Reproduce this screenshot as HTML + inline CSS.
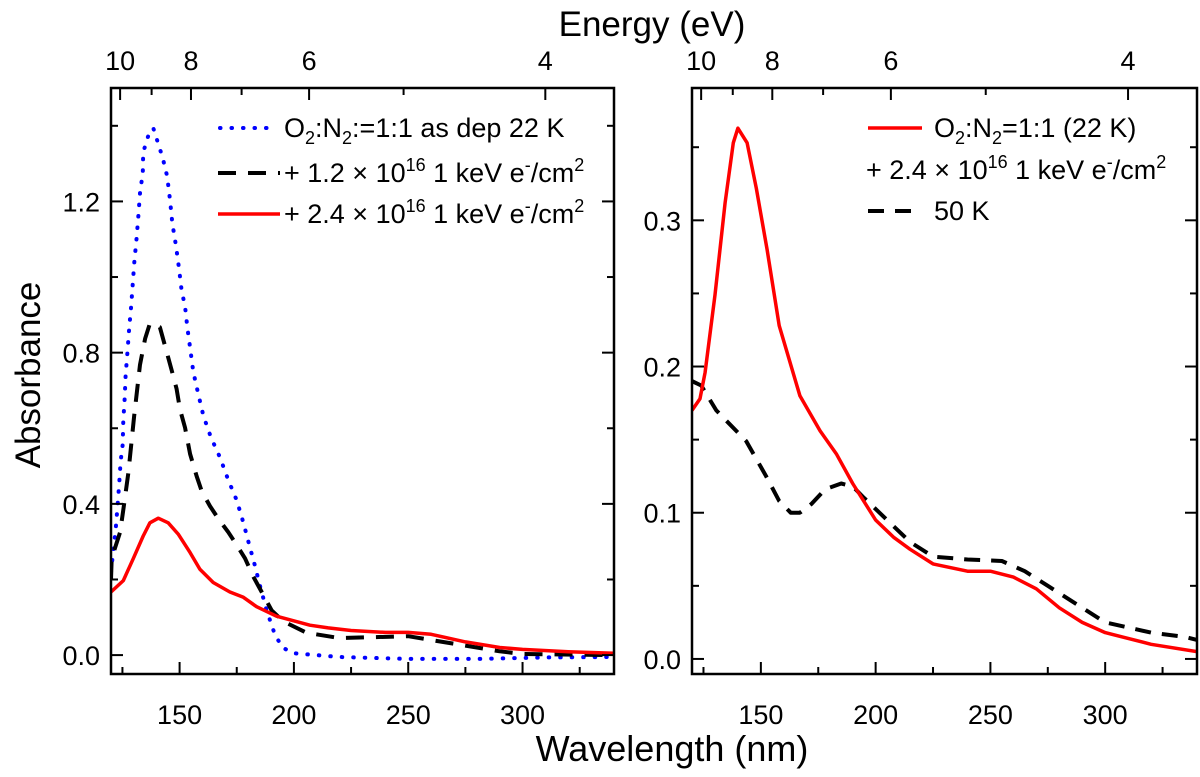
<!DOCTYPE html>
<html><head><meta charset="utf-8"><style>
html,body{margin:0;padding:0;background:#fff;}
svg{display:block;font-family:"Liberation Sans",Arial,sans-serif;}
</style></head><body>
<svg id="chart" width="1200" height="777" viewBox="0 0 1200 777" xmlns="http://www.w3.org/2000/svg">
<text x="652" y="36" font-size="35" text-anchor="middle">Energy (eV)</text>
<text x="672" y="761" font-size="36" text-anchor="middle">Wavelength (nm)</text>
<text transform="translate(40,375) rotate(-90)" font-size="35" text-anchor="middle">Absorbance</text>
<g id="left"></g>
<g id="right"></g>
<g font-size="27">
 <line x1="220" y1="128" x2="268" y2="128" stroke="#0000ff" stroke-width="4" stroke-dasharray="0.5,11" stroke-linecap="round"/>
 <text x="284" y="137">O<tspan font-size="18" dy="7">2</tspan><tspan dy="-7">:N</tspan><tspan font-size="18" dy="7">2</tspan><tspan dy="-7">:=1:1 as dep 22 K</tspan></text>
 <line x1="218" y1="173" x2="280" y2="173" stroke="#000" stroke-width="4" stroke-dasharray="18,12"/>
 <text x="284" y="182">+ 1.2 × 10<tspan font-size="18" dy="-11">16</tspan><tspan dy="11"> 1 keV e</tspan><tspan font-size="18" dy="-11">-</tspan><tspan dy="11">/cm</tspan><tspan font-size="18" dy="-11">2</tspan></text>
 <line x1="218" y1="214" x2="280" y2="214" stroke="#ff0000" stroke-width="3.5"/>
 <text x="284" y="223">+ 2.4 × 10<tspan font-size="18" dy="-11">16</tspan><tspan dy="11"> 1 keV e</tspan><tspan font-size="18" dy="-11">-</tspan><tspan dy="11">/cm</tspan><tspan font-size="18" dy="-11">2</tspan></text>
</g>
<g font-size="27">
 <line x1="868" y1="128" x2="922" y2="128" stroke="#ff0000" stroke-width="3.5"/>
 <text x="934" y="137">O<tspan font-size="18" dy="7">2</tspan><tspan dy="-7">:N</tspan><tspan font-size="18" dy="7">2</tspan><tspan dy="-7">=1:1 (22 K)</tspan></text>
 <text x="866" y="179">+ 2.4 × 10<tspan font-size="18" dy="-11">16</tspan><tspan dy="11"> 1 keV e</tspan><tspan font-size="18" dy="-11">-</tspan><tspan dy="11">/cm</tspan><tspan font-size="18" dy="-11">2</tspan></text>
 <line x1="868" y1="211" x2="922" y2="211" stroke="#000" stroke-width="4" stroke-dasharray="16,11"/>
 <text x="934" y="220">50 K</text>
</g>
</svg>
<script>
const leftBlueNm=[120,121,122,122.8,123.6,124.2,125.1,125.4,126,126.4,127.2,127.9,128.8,129.5,130.2,131.2,132,132.7,133.9,134.1,136.3,138.5,142.6,144.6,145.8,146.8,148.4,149.7,150.9,152.4,153.4,154.6,156,158.2,160.4,163.7,167.7,171.3,175,177.9,180.5,183,185.2,188.1,191.7,195,199.7,220,250,280,310,340];
const leftBlueAbs=[0.22,0.276,0.33,0.389,0.453,0.512,0.557,0.621,0.68,0.739,0.803,0.862,0.921,0.98,1.039,1.103,1.163,1.222,1.276,1.33,1.374,1.394,1.315,1.266,1.204,1.143,1.084,1.025,0.965,0.921,0.865,0.813,0.749,0.69,0.633,0.576,0.522,0.463,0.409,0.35,0.291,0.236,0.182,0.118,0.054,0.02,0.005,-0.005,-0.01,-0.01,-0.006,-0.005];
const leftBlackNm=[120,120.3,124,125.4,127.6,130.1,132.7,134.9,137,141.4,143.6,146.5,148.7,150.2,152.4,154.6,157.5,159.7,163.3,167,171.3,175,178.6,182.3,185.9,190.3,195.4,205.6,220,250,260,275,290,300,340];
const leftBlackAbs=[0.2,0.256,0.325,0.384,0.483,0.631,0.768,0.837,0.877,0.867,0.818,0.754,0.704,0.65,0.601,0.532,0.473,0.433,0.394,0.36,0.325,0.291,0.256,0.207,0.167,0.118,0.089,0.059,0.045,0.05,0.04,0.025,0.01,0.003,0.0];
const leftRedNm=[120,125.4,129.8,134.1,137,140.7,145,149.4,154.6,158.9,164.7,172,177.9,183.7,192.4,207,215,225,240,250,260,275,290,300,320,340];
const leftRedAbs=[0.167,0.197,0.256,0.315,0.35,0.362,0.35,0.32,0.271,0.227,0.192,0.167,0.153,0.128,0.103,0.079,0.072,0.065,0.06,0.06,0.055,0.035,0.02,0.015,0.009,0.005];
const rightRedNm=[120,123.5,125.7,130,134.4,138,140,144,148,152.7,158,167,175.8,183,190,200,208,215,225,240,250,260,270,280,290,300,320,340];
const rightRedAbs=[0.17,0.178,0.196,0.249,0.312,0.353,0.363,0.353,0.322,0.28,0.228,0.18,0.156,0.14,0.12,0.095,0.083,0.075,0.065,0.06,0.06,0.056,0.048,0.035,0.025,0.018,0.01,0.005];
const rightBlackNm=[120,124,130.6,143.6,152.3,158,163,167,172,178,185,190,195,205,215,225,240,255,265,275,290,300,320,335,340];
const rightBlackAbs=[0.19,0.187,0.17,0.149,0.125,0.108,0.1,0.1,0.106,0.116,0.12,0.118,0.11,0.095,0.08,0.07,0.068,0.067,0.06,0.05,0.035,0.025,0.018,0.015,0.013];
const xTicksMajor=[150,200,250,300];
const xTicksMinor=[125,175,225,275,325];
const energyMajor=[10,8,6,4];
const energyMinor=[9,7,5];
const leftYMajor=[0,0.4,0.8,1.2];
const leftYMinor=[0.2,0.6,1.0,1.4];
const rightYMajor=[0,0.1,0.2,0.3];
const rightYMinor=[0.05,0.15,0.25,0.35];

const NS='http://www.w3.org/2000/svg';
function mk(tag,attrs,parent){const e=document.createElementNS(NS,tag);for(const k in attrs)e.setAttribute(k,attrs[k]);parent.appendChild(e);return e;}

function panel(g,x0,x1,y0,y1,ymin,ymax,yMaj,yMin,yFmt,series){
  const sx=nm=>x0+(nm-120)/(340-120)*(x1-x0);
  const sy=a=>y1-(a-ymin)/(ymax-ymin)*(y1-y0);
  const clip='clip'+x0;
  const defs=mk('defs',{},g);
  const cp=mk('clipPath',{id:clip},defs);
  mk('rect',{x:x0,y:y0,width:x1-x0,height:y1-y0},cp);
  series.forEach(s=>{
    const d=s.nm.map((n,i)=>(i?'L':'M')+sx(n).toFixed(1)+','+sy(s.a[i]).toFixed(1)).join('');
    const p=mk('path',{d:d,fill:'none',stroke:s.color,'stroke-width':s.w,'stroke-dasharray':s.dash||'none','stroke-linecap':s.cap||'butt','stroke-linejoin':'round','clip-path':'url(#'+clip+')'},g);
    
    
  });
  const fr=mk('rect',{x:x0,y:y0,width:x1-x0,height:y1-y0,fill:'none',stroke:'#000','stroke-width':2.5},g);
  
  
  xTicksMajor.forEach(v=>{
    const x=sx(v);
    mk('line',{x1:x,x2:x,y1:y1,y2:y1-12,stroke:'#000','stroke-width':2},g);
    const t=mk('text',{x:x,y:y1+50,'font-size':27,'text-anchor':'middle'},g);
    t.textContent=v;
    
    
  });
  xTicksMinor.forEach(v=>{const x=sx(v);mk('line',{x1:x,x2:x,y1:y1,y2:y1-7,stroke:'#000','stroke-width':2},g);});
  energyMajor.forEach(e=>{
    const x=sx(1239.84/e);
    mk('line',{x1:x,x2:x,y1:y0,y2:y0+12,stroke:'#000','stroke-width':2},g);
    const t=mk('text',{x:x,y:y0-18,'font-size':27,'text-anchor':'middle'},g);
    t.textContent=e;
    
    
  });
  energyMinor.forEach(e=>{const x=sx(1239.84/e);mk('line',{x1:x,x2:x,y1:y0,y2:y0+7,stroke:'#000','stroke-width':2},g);});
  yMaj.forEach(v=>{
    const y=sy(v);
    mk('line',{x1:x0,x2:x0+12,y1:y,y2:y,stroke:'#000','stroke-width':2},g);
    mk('line',{x1:x1,x2:x1-12,y1:y,y2:y,stroke:'#000','stroke-width':2},g);
    const t=mk('text',{x:x0-11,y:y+10,'font-size':27,'text-anchor':'end'},g);
    t.textContent=yFmt(v);
    
    
  });
  yMin.forEach(v=>{const y=sy(v);if(y<y0)return;
    mk('line',{x1:x0,x2:x0+7,y1:y,y2:y,stroke:'#000','stroke-width':2},g);
    mk('line',{x1:x1,x2:x1-7,y1:y,y2:y,stroke:'#000','stroke-width':2},g);});
}
panel(document.getElementById('left'),111,614,88,674,-0.05,1.5,leftYMajor,leftYMinor,v=>v.toFixed(1),[
  {nm:leftBlueNm,a:leftBlueAbs,color:'#0000ff',w:4,dash:'0.5,11',cap:'round',name:'series-as-deposited'},
  {nm:leftBlackNm,a:leftBlackAbs,color:'#000',w:4,dash:'18,12',name:'series-1.2e16'},
  {nm:leftRedNm,a:leftRedAbs,color:'#ff0000',w:3.5,name:'series-2.4e16'}
]);
panel(document.getElementById('right'),692,1197,88,674,-0.0103,0.3905,rightYMajor,rightYMinor,v=>v.toFixed(1),[
  {nm:rightBlackNm,a:rightBlackAbs,color:'#000',w:4,dash:'16,11',name:'series-50k'},
  {nm:rightRedNm,a:rightRedAbs,color:'#ff0000',w:3.5,name:'series-22k'}
]);
</script>
</body></html>
